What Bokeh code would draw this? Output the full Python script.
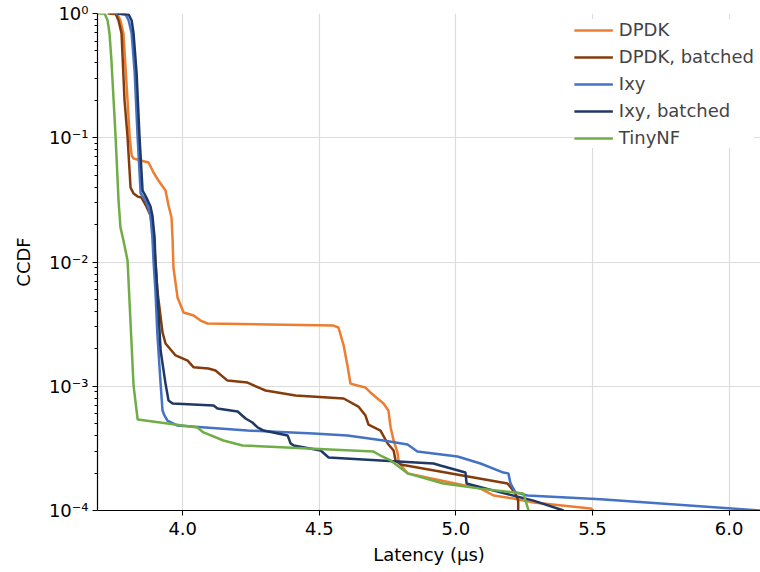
from bokeh.plotting import figure
from bokeh.models import FixedTicker, Range1d, Legend, LegendItem, NumeralTickFormatter
from bokeh.embed import file_html
from bokeh.resources import INLINE

# ---- data (latency in microseconds, CCDF) ----
dpdk_x = [3.732, 3.761, 3.772, 3.783, 3.798, 3.806, 3.813, 3.820, 3.846, 3.875, 3.893, 3.911, 3.937,
          3.948, 3.959, 3.963, 3.966, 3.981, 4.003, 4.040, 4.065, 4.091, 4.552, 4.570, 4.589, 4.603,
          4.614, 4.643, 4.669, 4.687, 4.713, 4.735, 4.753, 4.761, 4.772, 4.786, 4.790, 4.808, 4.823,
          4.980, 5.090, 5.138, 5.211, 5.284, 5.493, 5.504]
dpdk_y = [1.0, 0.982, 0.878, 0.69, 0.1995, 0.1, 0.072, 0.068, 0.0656, 0.0632, 0.0525, 0.0453, 0.0376,
          0.0285, 0.0228, 0.0149, 0.00903, 0.00518, 0.00392, 0.00371, 0.00338, 0.0032, 0.00308, 0.00297,
          0.00213, 0.00147, 0.00105, 0.00101, 0.000977, 0.000891, 0.000797, 0.000727, 0.000638, 0.000466,
          0.000366, 0.000293, 0.000253, 0.000218, 0.000199, 0.000168, 0.00015, 0.000132, 0.000125,
          0.000116, 0.000104, 0.0001]

dpdk_b_x = [3.725, 3.754, 3.765, 3.776, 3.787, 3.798, 3.809, 3.820, 3.835, 3.849, 3.867, 3.882, 3.893,
            3.900, 3.907, 3.926, 3.937, 3.974, 4.018, 4.040, 4.094, 4.120, 4.164, 4.237, 4.285, 4.303,
            4.413, 4.589, 4.643, 4.669, 4.680, 4.724, 4.750, 4.772, 4.779, 4.797, 5.189, 5.218, 5.228,
            5.228]
dpdk_b_y = [1.0, 1.0, 0.878, 0.69, 0.1995, 0.101, 0.0398, 0.0356, 0.0336, 0.033, 0.028, 0.0237, 0.0157,
            0.0103, 0.0059, 0.00271, 0.00221, 0.00177, 0.00161, 0.00142, 0.00139, 0.00134, 0.00111,
            0.00107, 0.00096, 0.000924, 0.000843, 0.000797, 0.000686, 0.000581, 0.000492, 0.00044,
            0.000346, 0.000304, 0.000253, 0.000235, 0.000165, 0.000137, 0.00012, 0.0001]

ixy_x = [3.754, 3.791, 3.802, 3.813, 3.824, 3.835, 3.846, 3.864, 3.875, 3.882, 3.889, 3.893, 3.900,
         3.907, 3.919, 3.926, 3.933, 3.944, 3.981, 4.237, 4.479, 4.603, 4.735, 4.823, 4.859, 5.006,
         5.090, 5.174, 5.192, 5.200, 5.218, 5.262, 5.530, 6.115]
ixy_y = [1.0, 0.982, 0.878, 0.69, 0.335, 0.1, 0.0356, 0.0313, 0.027, 0.0237, 0.0157, 0.0103, 0.0059,
         0.00266, 0.00105, 0.000638, 0.000582, 0.00053, 0.000483, 0.00044, 0.000417, 0.000402,
         0.000366, 0.00034, 0.000298, 0.000272, 0.000239, 0.000202, 0.000199, 0.000165, 0.00014,
         0.000132, 0.000123, 0.0001]

ixy_b_x = [3.761, 3.802, 3.813, 3.820, 3.831, 3.842, 3.853, 3.867, 3.882, 3.889, 3.897, 3.900, 3.907,
           3.919, 3.937, 3.948, 3.963, 4.113, 4.127, 4.201, 4.230, 4.255, 4.274, 4.296, 4.384, 4.395,
           4.406, 4.505, 4.534, 4.724, 4.918, 4.943, 5.035, 5.039, 5.163, 5.284, 5.394]
ixy_b_y = [1.0, 0.982, 0.878, 0.69, 0.335, 0.1, 0.0376, 0.033, 0.028, 0.0237, 0.0157, 0.0103, 0.0059,
           0.00194, 0.00105, 0.000768, 0.000727, 0.0007, 0.000662, 0.000626, 0.00055, 0.000511,
           0.000466, 0.00044, 0.000402, 0.000346, 0.000334, 0.000304, 0.000267, 0.000253, 0.000239,
           0.00023, 0.000202, 0.000165, 0.00014, 0.00012, 0.0001]

tinynf_x = [3.688, 3.714, 3.725, 3.732, 3.739, 3.747, 3.754, 3.765, 3.772, 3.783, 3.798, 3.820, 3.835,
            4.054, 4.076, 4.149, 4.219, 4.698, 4.724, 4.761, 4.823, 4.954, 5.090, 5.247, 5.266]
tinynf_y = [1.0, 1.0, 0.878, 0.69, 0.419, 0.1995, 0.104, 0.0313, 0.019, 0.0149, 0.0103, 0.00101,
            0.00054, 0.000466, 0.000425, 0.000366, 0.000334, 0.000298, 0.000277, 0.000253, 0.000199,
            0.000165, 0.00015, 0.000137, 0.0001]

series_names = ["DPDK", "DPDK, batched", "Ixy", "Ixy, batched", "TinyNF"]
series_colors = ["#ED7D31", "#843C0C", "#4472C4", "#1F3864", "#70AD47"]
series_x = [dpdk_x, dpdk_b_x, ixy_x, ixy_b_x, tinynf_x]
series_y = [dpdk_y, dpdk_b_y, ixy_y, ixy_b_y, tinynf_y]

x_ticks = [4.0, 4.5, 5.0, 5.5, 6.0]
y_ticks = [1.0, 0.1, 0.01, 0.001, 0.0001]
y_tick_labels = ["10⁰", "10⁻¹", "10⁻²", "10⁻³", "10⁻⁴"]
x_label = "Latency (μs)"
y_label = "CCDF"

FONT = "DejaVu Sans"

p = figure(width=760, height=567, y_axis_type="log",
           x_range=Range1d(3.688, 6.115), y_range=Range1d(0.0001, 1.0),
           output_backend="svg", toolbar_location=None,
           min_border_left=97, min_border_right=0, min_border_top=13, min_border_bottom=52)
p.outline_line_color = None
p.background_fill_color = "white"
p.border_fill_color = "white"

items = []
for name, color, xs, ys in zip(series_names, series_colors, series_x, series_y):
    r = p.line(xs, ys, line_color=color, line_width=2.5)
    items.append(LegendItem(label=name, renderers=[r]))

# axes
p.xaxis.ticker = FixedTicker(ticks=x_ticks)
p.xaxis.formatter = NumeralTickFormatter(format="0.0")
minor = [m * d for d in [0.0001, 0.001, 0.01, 0.1] for m in range(2, 10)]
p.yaxis.ticker = FixedTicker(ticks=y_ticks, minor_ticks=minor)
p.yaxis.major_label_overrides = {t: l for t, l in zip(y_ticks, y_tick_labels)}

for ax in (p.xaxis[0], p.yaxis[0]):
    ax.axis_line_color = "black"
    ax.axis_line_width = 1.2
    ax.major_tick_line_color = "black"
    ax.minor_tick_line_color = "black"
    ax.major_tick_in = 0
    ax.major_tick_out = 5
    ax.minor_tick_in = 0
    ax.minor_tick_out = 3
    ax.major_label_text_font = FONT
    ax.major_label_text_font_size = "18px"
    ax.major_label_text_color = "black"
    ax.axis_label_text_font = FONT
    ax.axis_label_text_font_size = "18px"
    ax.axis_label_text_font_style = "normal"
    ax.axis_label_text_color = "black"

p.xaxis.minor_tick_line_color = None
p.xaxis.axis_label = x_label
p.yaxis.axis_label = y_label
p.xaxis.major_label_standoff = 6
p.xaxis.axis_label_standoff = 6
p.yaxis.major_label_standoff = 4
p.yaxis.axis_label_standoff = 12

p.xgrid.ticker = FixedTicker(ticks=x_ticks)
p.ygrid.ticker = FixedTicker(ticks=y_ticks)
p.grid.grid_line_color = "#dcdcdc"
p.grid.grid_line_width = 1.2

legend = Legend(items=items, location="top_right", margin=6, padding=10,
                spacing=6, glyph_width=39, glyph_height=20, label_standoff=6,
                label_text_font=FONT, label_text_font_size="18px",
                border_line_color=None, background_fill_color="white", background_fill_alpha=1.0)
p.add_layout(legend)

open("out.html", "w").write(file_html(p, INLINE))
